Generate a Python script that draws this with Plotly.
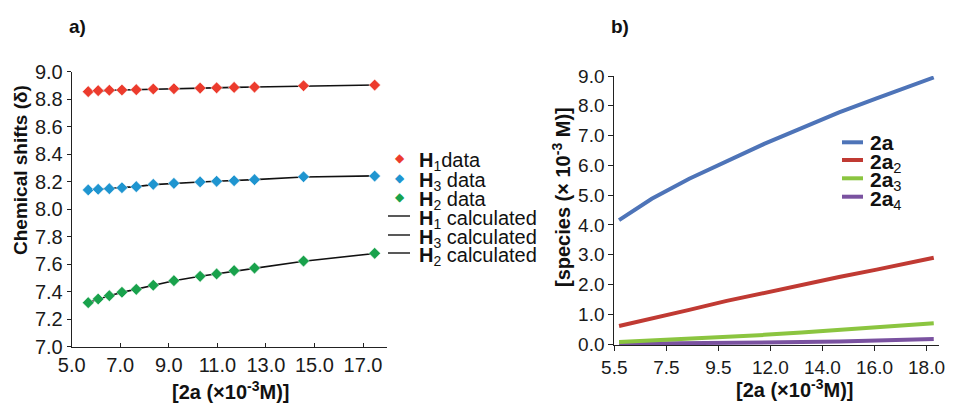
import plotly.graph_objects as go

W, H = 957, 403

# ---------------- Panel a data ----------------
conc_a = [5.68, 6.09, 6.55, 7.07, 7.66, 8.36, 9.21, 10.29, 10.97, 11.69, 12.53, 14.55, 17.48]
h1_data = [8.855, 8.862, 8.865, 8.867, 8.869, 8.874, 8.876, 8.881, 8.883, 8.886, 8.888, 8.898, 8.903]
h3_data = [8.140, 8.145, 8.149, 8.156, 8.164, 8.181, 8.188, 8.198, 8.203, 8.207, 8.215, 8.236, 8.241]
h2_data = [7.320, 7.347, 7.371, 7.396, 7.417, 7.447, 7.480, 7.512, 7.529, 7.553, 7.572, 7.623, 7.679]
h1_calc = [8.856, 8.861, 8.864, 8.867, 8.870, 8.873, 8.877, 8.881, 8.883, 8.886, 8.889, 8.896, 8.903]
h3_calc = [8.141, 8.145, 8.150, 8.156, 8.164, 8.179, 8.189, 8.198, 8.203, 8.208, 8.215, 8.234, 8.242]
h2_calc = [7.321, 7.346, 7.371, 7.395, 7.418, 7.448, 7.480, 7.512, 7.530, 7.552, 7.572, 7.622, 7.678]
xa_ticks = [5.0, 7.0, 9.0, 11.0, 13.0, 15.0, 17.0]
ya_ticks = [7.0, 7.2, 7.4, 7.6, 7.8, 8.0, 8.2, 8.4, 8.6, 8.8, 9.0]

# ---------------- Panel b data ----------------
conc_b = [5.69, 7.0, 8.5, 10.0, 11.5, 13.0, 14.5, 16.0, 17.5, 18.29]
s_2a = [4.16, 4.88, 5.55, 6.15, 6.72, 7.25, 7.78, 8.25, 8.72, 8.95]
s_2a2 = [0.61, 0.85, 1.15, 1.45, 1.72, 2.00, 2.25, 2.50, 2.75, 2.90]
s_2a3 = [0.07, 0.12, 0.18, 0.24, 0.31, 0.39, 0.47, 0.56, 0.65, 0.70]
s_2a4 = [0.01, 0.015, 0.025, 0.035, 0.05, 0.07, 0.09, 0.12, 0.15, 0.17]
xb_tickvals = [5.5, 7.583, 9.667, 11.75, 13.833, 15.917, 18.0]
xb_ticktext = ["5.5", "7.5", "9.5", "12.0", "14.0", "16.0", "18.0"]
yb_ticks = [0, 1, 2, 3, 4, 5, 6, 7, 8, 9]

FONT = "Liberation Sans, Arial, Helvetica, sans-serif"
RED, BLUE, GREEN = "#ec3b2d", "#1f95d0", "#19a24c"
C_2A, C_2A2, C_2A3, C_2A4 = "#4e74b8", "#c03a33", "#8bc540", "#7a52a0"


def px(x):
    return x / W


def py(y):
    return 1 - y / H


fig = go.Figure()

# panel a: calculated lines first, then data markers
for yc in (h1_calc, h3_calc, h2_calc):
    fig.add_trace(go.Scatter(x=conc_a, y=yc, mode="lines",
                             line=dict(color="#111111", width=1.6),
                             xaxis="x", yaxis="y", showlegend=False))
for yd, col in ((h1_data, RED), (h3_data, BLUE), (h2_data, GREEN)):
    fig.add_trace(go.Scatter(x=conc_a, y=yd, mode="markers",
                             marker=dict(symbol="diamond", size=9, color=col,
                                         line=dict(color="rgba(255,255,255,0.5)", width=1)),
                             xaxis="x", yaxis="y", showlegend=False, cliponaxis=False))

# panel b
for ys, col in ((s_2a4, C_2A4), (s_2a3, C_2A3), (s_2a2, C_2A2), (s_2a, C_2A)):
    fig.add_trace(go.Scatter(x=conc_b, y=ys, mode="lines",
                             line=dict(color=col, width=4),
                             xaxis="x2", yaxis="y2", showlegend=False))

axis_common = dict(showgrid=False, zeroline=False, showline=True, automargin=False,
                   linecolor="#222222", linewidth=1, tickcolor="#222222",
                   tickfont=dict(family=FONT, size=20, color="#1a1a1a"))
tick_b = dict(family=FONT, size=19, color="#1a1a1a")

fig.update_layout(
    width=W, height=H, autosize=False,
    margin=dict(l=0, r=0, t=0, b=0, pad=0),
    paper_bgcolor="white", plot_bgcolor="white",
    showlegend=False,
    xaxis=dict(domain=[px(71.7), px(387.3)], range=[5.0, 18.0], anchor="y",
               tickmode="array", tickvals=xa_ticks, ticktext=[f"{v:.1f}" for v in xa_ticks],
               ticks="inside", ticklen=4, **axis_common),
    yaxis=dict(domain=[py(346.7), py(71.7)], range=[7.0, 9.0], anchor="x",
               tickmode="array", tickvals=ya_ticks, ticktext=[f"{v:.1f}" for v in ya_ticks],
               ticks="outside", ticklen=4, **axis_common),
    xaxis2=dict(domain=[px(614.3), px(939)], range=[5.5, 18.5], anchor="y2",
                tickmode="array", tickvals=xb_tickvals, ticktext=xb_ticktext,
                ticks="outside", ticklen=5, **{**axis_common, "tickfont": tick_b}),
    yaxis2=dict(domain=[py(345), py(76)], range=[-0.03, 9.0], anchor="x2",
                tickmode="array", tickvals=yb_ticks, ticktext=[f"{v:.1f}" for v in yb_ticks],
                ticks="outside", ticklen=5, **{**axis_common, "tickfont": tick_b}),
)

ann = []


def text(x, y, s, size, xanchor="center", textangle=0, color="#111111"):
    ann.append(dict(x=px(x), y=py(y), xref="paper", yref="paper", text=s,
                    showarrow=False, xanchor=xanchor, yanchor="middle",
                    textangle=textangle, font=dict(family=FONT, size=size, color=color)))


# panel labels
text(77, 27, "<b>a)</b>", 19)
text(620, 27, "<b>b)</b>", 19)

# axis titles
text(231, 390, "<b>[2a (×10<sup>-3</sup>M)]</b>", 20)
text(795, 388, "<b>[2a (×10<sup>-3</sup>M)]</b>", 20)
text(20, 170, "<b>Chemical shifts (δ)</b>", 19, textangle=-90)
text(561, 197, "<b>[species (× 10<sup>-3</sup> M)]</b>", 20, textangle=-90)

# legend a
leg_a = [
    (158, RED, "<b>H</b><sub>1</sub>data"),
    (178, BLUE, "<b>H</b><sub>3</sub> data"),
    (197, GREEN, "<b>H</b><sub>2</sub> data"),
    (216, None, "<b>H</b><sub>1</sub> calculated"),
    (235, None, "<b>H</b><sub>3</sub> calculated"),
    (253, None, "<b>H</b><sub>2</sub> calculated"),
]
shapes = []
for y, col, s in leg_a:
    text(417, y + 3, s, 20, xanchor="left")
    if col:
        text(400, y, "◆", 12, color=col)
    else:
        shapes.append(dict(type="line", xref="paper", yref="paper",
                           x0=px(388), x1=px(410), y0=py(y), y1=py(y),
                           line=dict(color="#222222", width=1.5)))

# legend b
leg_b = [
    (142.3, C_2A, "<b>2a</b>"),
    (160.0, C_2A2, "<b>2a</b><sub>2</sub>"),
    (178.3, C_2A3, "<b>2a</b><sub>3</sub>"),
    (196.7, C_2A4, "<b>2a</b><sub>4</sub>"),
]
for y, col, s in leg_b:
    text(868, y + (0 if "sub" not in s else 3), s, 21, xanchor="left")
    shapes.append(dict(type="line", xref="paper", yref="paper",
                       x0=px(842), x1=px(863), y0=py(y), y1=py(y),
                       line=dict(color=col, width=4)))

fig.update_layout(annotations=ann, shapes=shapes)

post = ("document.body.style.margin='0';document.body.style.overflow='hidden';"
        "var gd=document.getElementById('{plot_id}');"
        "Plotly.relayout(gd,{width:%d,height:%d,autosize:false});" % (W, H))
fig.write_html("out.html", config={"displayModeBar": False, "responsive": False},
               post_script=post)
